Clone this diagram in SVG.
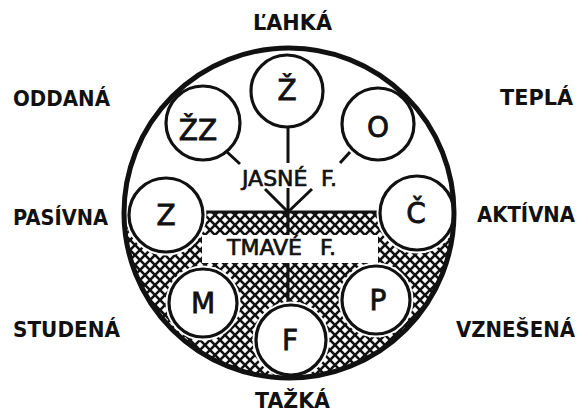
<svg xmlns="http://www.w3.org/2000/svg" width="588" height="419" viewBox="0 0 588 419">
<style>
.lbl{font-family:"DejaVu Sans","Liberation Sans",sans-serif;font-weight:bold;font-size:22px;fill:#111}
.let{font-family:"DejaVu Sans","Liberation Sans",sans-serif;font-size:28px;fill:#111;stroke:#111;stroke-width:0.8;text-anchor:middle}
.mid{font-family:"DejaVu Sans","Liberation Sans",sans-serif;font-size:22px;fill:#111;stroke:#111;stroke-width:0.7}
.halo{fill:#fff;stroke:#fff;stroke-width:7}
.node{fill:#fff;stroke:#111;stroke-width:3.2}
.con{stroke:#111;stroke-width:3;fill:none;stroke-linecap:butt}
</style>
<defs>
<pattern id="hatch" patternUnits="userSpaceOnUse" width="10" height="10">
<rect width="10" height="10" fill="#111"/>
<path d="M5 -3.2L8.2 0L5 3.2L1.8 0Z M5 6.8L8.2 10L5 13.2L1.8 10Z M0 1.8L3.2 5L0 8.2L-3.2 5Z M10 1.8L13.2 5L10 8.2L6.8 5Z" fill="#fff"/>
</pattern>
</defs>
<rect width="588" height="419" fill="#fff"/>
<g id="dark-half">
<path d="M124 213 A165 165 0 0 0 454 213 Z" fill="url(#hatch)"/>
</g>
<g id="connectors">
<path class="con" d="M288 127V163"/>
<path class="con" d="M227 152L240 164"/>
<path class="con" d="M350 152L340 163"/>
<path class="con" d="M265 189L288 212L312 189"/>
<path class="con" d="M288 188V306"/>
<path class="con" d="M203 212H380" stroke-width="4"/>
</g>
<g id="tmave">
<rect x="202" y="235" width="176" height="28" fill="#fff"/>
<text class="mid" x="227" y="255" font-size="21">TMAVÉ <tspan x="320">F.</tspan></text>
</g>
<g id="jasne">
<text class="mid" x="242" y="186" font-size="23">JASNÉ <tspan x="321">F.</tspan></text>
</g>
<g id="n-zh"><circle class="node" cx="287" cy="91" r="36"/><text class="let" x="287" y="100">Ž</text></g>
<g id="n-zhz"><circle class="node" cx="203" cy="123" r="37"/><text class="let" x="198" y="140">ŽZ</text></g>
<g id="n-o"><circle class="node" cx="378" cy="124" r="36"/><text class="let" x="378" y="137">O</text></g>
<g id="n-z"><circle class="halo" cx="166" cy="215" r="37"/><circle class="node" cx="166" cy="215" r="37"/><text class="let" x="166" y="225">Z</text></g>
<g id="n-c"><circle class="halo" cx="417" cy="213" r="37"/><circle class="node" cx="417" cy="213" r="37"/><text class="let" x="416" y="223">Č</text></g>
<g id="n-m"><circle class="halo" cx="203" cy="303" r="34"/><circle class="node" cx="203" cy="303" r="34"/><text class="let" x="203" y="313">M</text></g>
<g id="n-f"><circle class="halo" cx="291" cy="340" r="35"/><circle class="node" cx="291" cy="340" r="35"/><text class="let" x="290" y="350">F</text></g>
<g id="n-p"><circle class="halo" cx="376" cy="300" r="34"/><circle class="node" cx="376" cy="300" r="34"/><text class="let" x="378" y="310">P</text></g>
<g id="outer">
<circle cx="289" cy="213" r="165" fill="none" stroke="#111" stroke-width="5"/>
</g>
<g id="labels">
<text class="lbl" x="253" y="30" textLength="79" lengthAdjust="spacingAndGlyphs">ĽAHKÁ</text>
<text class="lbl" x="255" y="408" textLength="75" lengthAdjust="spacingAndGlyphs">TAŽKÁ</text>
<text class="lbl" x="13" y="106" textLength="97" lengthAdjust="spacingAndGlyphs">ODDANÁ</text>
<text class="lbl" x="13" y="225" textLength="95" lengthAdjust="spacingAndGlyphs">PASÍVNA</text>
<text class="lbl" x="13" y="337" textLength="107" lengthAdjust="spacingAndGlyphs">STUDENÁ</text>
<text class="lbl" x="500" y="105" textLength="73" lengthAdjust="spacingAndGlyphs">TEPLÁ</text>
<text class="lbl" x="477" y="222" textLength="98" lengthAdjust="spacingAndGlyphs">AKTÍVNA</text>
<text class="lbl" x="456" y="337" textLength="119" lengthAdjust="spacingAndGlyphs">VZNEŠENÁ</text>
</g>
</svg>
